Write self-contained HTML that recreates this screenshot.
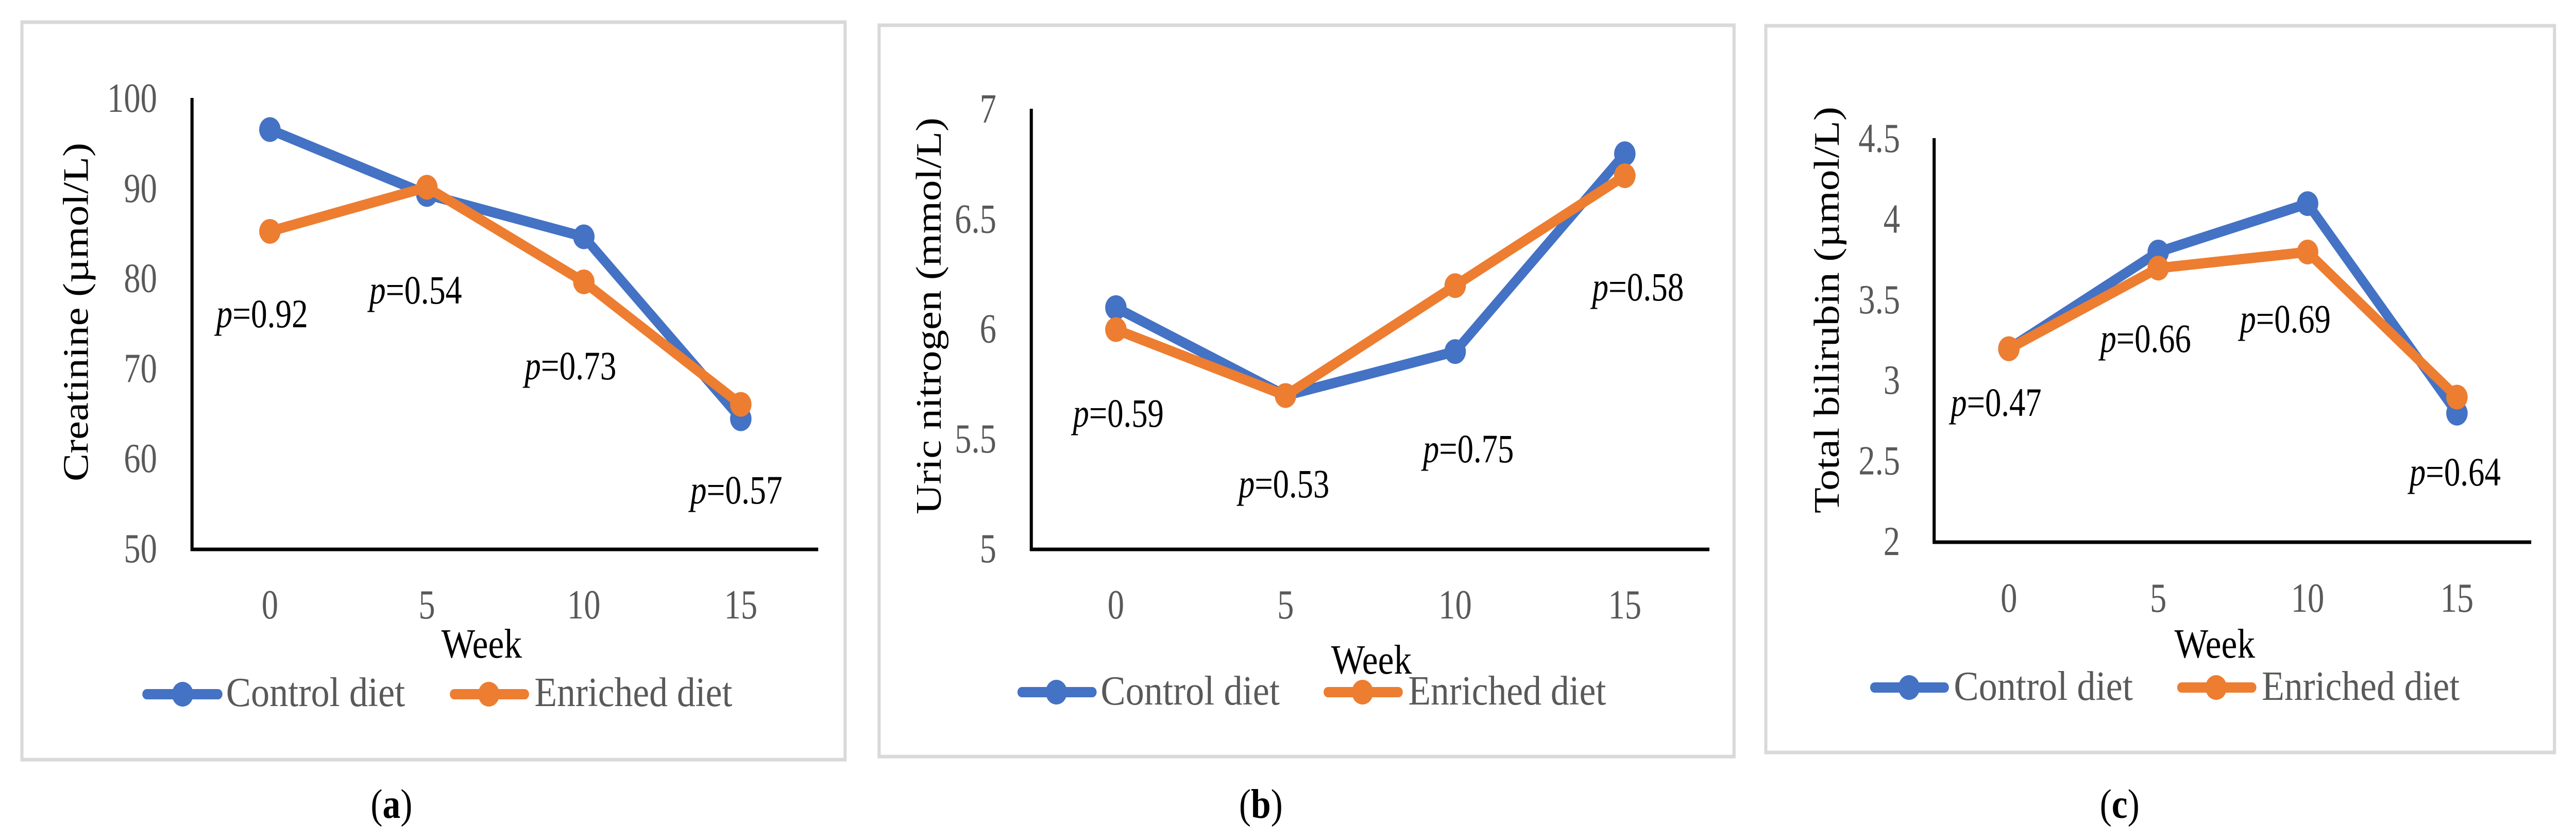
<!DOCTYPE html>
<html lang="en">
<head>
<meta charset="utf-8">
<title>Serum biochemistry by week</title>
<style>
html,body{margin:0;padding:0;background:#fff;width:100%;height:100%;overflow:hidden;}
svg{display:block;width:100vw;height:100vh;font-family:"Liberation Serif",serif;}
.tick{font-size:80px;fill:#595959;}
.legend-text{font-size:80px;fill:#595959;}
.title{font-size:80px;fill:#000;}
.pval{font-size:78px;fill:#000;}
.cap{font-size:80px;fill:#000;}
</style>
</head>
<body>
<svg id="chart" xmlns="http://www.w3.org/2000/svg" viewBox="0 0 5755 1626" preserveAspectRatio="none">
<rect width="5755" height="1626" fill="#fff"/>

<g id="panel-a">
<rect x="49" y="43" width="1839" height="1431" fill="#fff" stroke="#d9d9d9" stroke-width="7"/>
<text class="title" transform="translate(196,934) rotate(-90)" textLength="657" lengthAdjust="spacingAndGlyphs">Creatinine (µmol/L)</text>
<text class="title" x="1076" y="1276" text-anchor="middle">Week</text>
<line x1="328" x2="487" y1="1347" y2="1347" stroke="#4472c4" stroke-width="20" stroke-linecap="round"/>
<circle cx="408" cy="1347" r="24" fill="#4472c4"/>
<text class="legend-text" x="505" y="1370" textLength="400" lengthAdjust="spacingAndGlyphs">Control diet</text>
<line x1="1015" x2="1172" y1="1347" y2="1347" stroke="#ed7d31" stroke-width="20" stroke-linecap="round"/>
<circle cx="1092" cy="1347" r="24" fill="#ed7d31"/>
<text class="legend-text" x="1194" y="1370" textLength="442" lengthAdjust="spacingAndGlyphs">Enriched diet</text>
<text class="pval" x="483" y="635" textLength="205" lengthAdjust="spacingAndGlyphs"><tspan font-style="italic">p</tspan>=0.92</text>
<text class="pval" x="825" y="589" textLength="207" lengthAdjust="spacingAndGlyphs"><tspan font-style="italic">p</tspan>=0.54</text>
<text class="pval" x="1172" y="736" textLength="205" lengthAdjust="spacingAndGlyphs"><tspan font-style="italic">p</tspan>=0.73</text>
<text class="pval" x="1542" y="977" textLength="206" lengthAdjust="spacingAndGlyphs"><tspan font-style="italic">p</tspan>=0.57</text>
<text class="cap" x="828" y="1587">(<tspan font-weight="bold">a</tspan>)</text>
</g>

<g id="panel-b">
<rect x="1964" y="49" width="1910" height="1419" fill="#fff" stroke="#d9d9d9" stroke-width="7"/>
<text class="title" transform="translate(2102,998) rotate(-90)" textLength="770" lengthAdjust="spacingAndGlyphs">Uric nitrogen (mmol/L)</text>
<text class="title" x="3064" y="1307" text-anchor="middle">Week</text>
<line x1="2283" x2="2440" y1="1343" y2="1343" stroke="#4472c4" stroke-width="20" stroke-linecap="round"/>
<circle cx="2360" cy="1343" r="24" fill="#4472c4"/>
<text class="legend-text" x="2459" y="1367" textLength="400" lengthAdjust="spacingAndGlyphs">Control diet</text>
<line x1="2967" x2="3124" y1="1343" y2="1343" stroke="#ed7d31" stroke-width="20" stroke-linecap="round"/>
<circle cx="3044" cy="1343" r="24" fill="#ed7d31"/>
<text class="legend-text" x="3146" y="1367" textLength="442" lengthAdjust="spacingAndGlyphs">Enriched diet</text>
<text class="pval" x="2397" y="828" textLength="203" lengthAdjust="spacingAndGlyphs"><tspan font-style="italic">p</tspan>=0.59</text>
<text class="pval" x="2767" y="965" textLength="203" lengthAdjust="spacingAndGlyphs"><tspan font-style="italic">p</tspan>=0.53</text>
<text class="pval" x="3179" y="897" textLength="203" lengthAdjust="spacingAndGlyphs"><tspan font-style="italic">p</tspan>=0.75</text>
<text class="pval" x="3557" y="583" textLength="205" lengthAdjust="spacingAndGlyphs"><tspan font-style="italic">p</tspan>=0.58</text>
<text class="cap" x="2768" y="1587">(<tspan font-weight="bold">b</tspan>)</text>
</g>

<g id="panel-c">
<rect x="3945" y="50" width="1762" height="1410" fill="#fff" stroke="#d9d9d9" stroke-width="7"/>
<text class="title" transform="translate(4108,996) rotate(-90)" textLength="789" lengthAdjust="spacingAndGlyphs">Total bilirubin (µmol/L)</text>
<text class="title" x="4948" y="1276" text-anchor="middle">Week</text>
<line x1="4188" x2="4344" y1="1334" y2="1334" stroke="#4472c4" stroke-width="20" stroke-linecap="round"/>
<circle cx="4265" cy="1334" r="24" fill="#4472c4"/>
<text class="legend-text" x="4365" y="1358" textLength="400" lengthAdjust="spacingAndGlyphs">Control diet</text>
<line x1="4874" x2="5031" y1="1334" y2="1334" stroke="#ed7d31" stroke-width="20" stroke-linecap="round"/>
<circle cx="4951" cy="1334" r="24" fill="#ed7d31"/>
<text class="legend-text" x="5053" y="1358" textLength="442" lengthAdjust="spacingAndGlyphs">Enriched diet</text>
<text class="pval" x="4358" y="807" textLength="203" lengthAdjust="spacingAndGlyphs"><tspan font-style="italic">p</tspan>=0.47</text>
<text class="pval" x="4692" y="683" textLength="203" lengthAdjust="spacingAndGlyphs"><tspan font-style="italic">p</tspan>=0.66</text>
<text class="pval" x="5004" y="645" textLength="203" lengthAdjust="spacingAndGlyphs"><tspan font-style="italic">p</tspan>=0.69</text>
<text class="pval" x="5383" y="942" textLength="204" lengthAdjust="spacingAndGlyphs"><tspan font-style="italic">p</tspan>=0.64</text>
<text class="cap" x="4691" y="1587">(<tspan font-weight="bold">c</tspan>)</text>
</g>
</svg>

<script>
var weeks = [0, 5, 10, 15];
var creatinineControl = [96.6, 89.4, 84.7, 64.5];
var creatinineEnriched = [85.3, 90.2, 79.7, 66.1];
var creatinineTicks = [50, 60, 70, 80, 90, 100];
var uricControl = [6.1, 5.7, 5.9, 6.8];
var uricEnriched = [6.0, 5.7, 6.2, 6.7];
var uricTicks = [5, 5.5, 6, 6.5, 7];
var bilirubinControl = [3.2, 3.8, 4.1, 2.8];
var bilirubinEnriched = [3.2, 3.7, 3.8, 2.9];
var bilirubinTicks = [2, 2.5, 3, 3.5, 4, 4.5];

var SVG_NS = 'http://www.w3.org/2000/svg';

function make(parent, tag, attrs, text) {
  var el = document.createElementNS(SVG_NS, tag);
  for (var k in attrs) el.setAttribute(k, attrs[k]);
  if (text !== undefined) el.textContent = text;
  parent.appendChild(el);
  return el;
}

function drawPanel(id, box, control, enriched, ticks) {
  var panel = document.getElementById('panel-' + id);
  var yMin = ticks[0];
  var yMax = ticks[ticks.length - 1];
  var xMin = weeks[0];
  var xMax = weeks[weeks.length - 1];
  function xScale(w) { return box.x0 + (w - xMin) / (xMax - xMin) * (box.x1 - box.x0); }
  function yScale(v) { return box.bottom - (v - yMin) / (yMax - yMin) * (box.bottom - box.top); }

  var yAxis = make(panel, 'line', {x1: box.left, x2: box.left, y1: box.top - 2, y2: box.bottom + 3, stroke: '#000', 'stroke-width': 7});
  
  
  var xAxis = make(panel, 'line', {x1: box.left - 3, x2: box.right, y1: box.bottom, y2: box.bottom, stroke: '#000', 'stroke-width': 7});
  
  

  ticks.forEach(function (t) {
    var label = make(panel, 'text', {
      'class': 'tick',
      'text-anchor': 'end',
      transform: 'translate(' + box.tickRight + ',' + (yScale(t) + 25) + ') scale(0.93,1)'
    }, String(t));
    
    
  });

  weeks.forEach(function (w) {
    var label = make(panel, 'text', {
      'class': 'tick',
      'text-anchor': 'middle',
      transform: 'translate(' + xScale(w) + ',' + box.xTickBase + ') scale(0.93,1)'
    }, String(w));
    
    
  });

  function series(values, color, key) {
    var pts = values.map(function (v, i) { return xScale(weeks[i]) + ',' + yScale(v); }).join(' ');
    var line = make(panel, 'polyline', {points: pts, fill: 'none', stroke: color, 'stroke-width': 20, 'stroke-linejoin': 'round', 'stroke-linecap': 'round'});
    
    
    values.forEach(function (v, i) {
      var dot = make(panel, 'circle', {cx: xScale(weeks[i]), cy: yScale(v), r: 24, fill: color});
      
      
    });
  }
  series(control, '#4472c4', 'control');
  series(enriched, '#ed7d31', 'enriched');
}

drawPanel('a', {left: 429, right: 1828, top: 192, bottom: 1066, x0: 603, x1: 1655, tickRight: 351, xTickBase: 1200}, creatinineControl, creatinineEnriched, creatinineTicks);
drawPanel('b', {left: 2304, right: 3819, top: 213, bottom: 1066, x0: 2493, x1: 3630, tickRight: 2226, xTickBase: 1200}, uricControl, uricEnriched, uricTicks);
drawPanel('c', {left: 4321, right: 5655, top: 270, bottom: 1052, x0: 4488, x1: 5489, tickRight: 4245, xTickBase: 1187}, bilirubinControl, bilirubinEnriched, bilirubinTicks);
</script>
</body>
</html>
